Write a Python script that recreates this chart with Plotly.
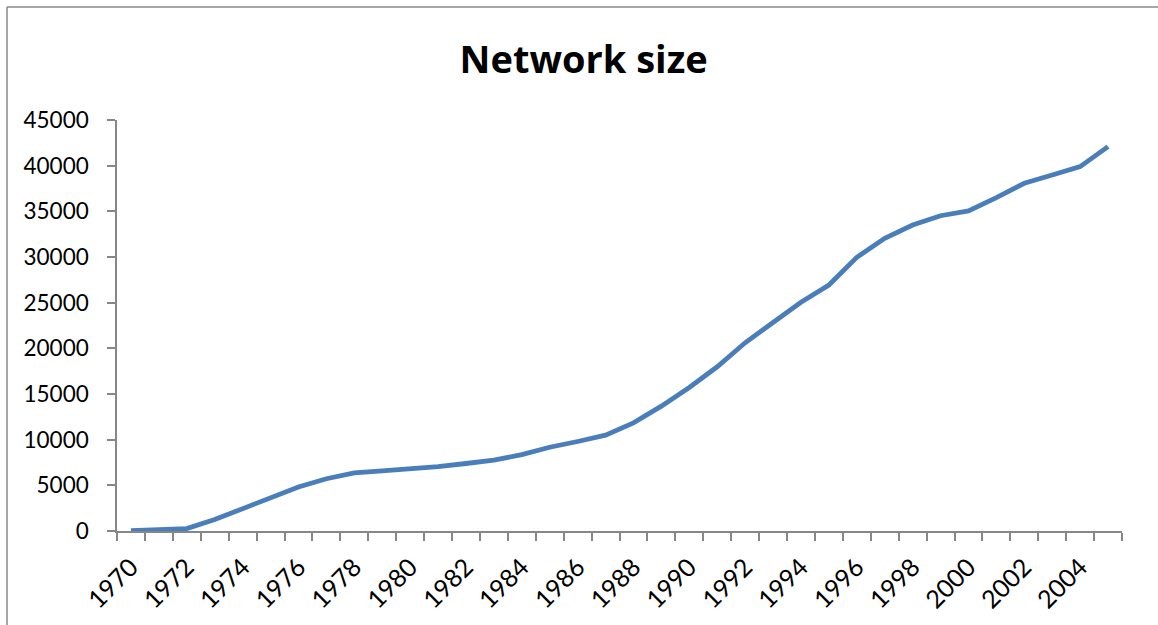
import plotly.graph_objects as go

# Network size by year
years = [str(y) for y in range(1970, 2006)]
network_size = [
    50, 150, 260, 1250, 2450, 3730, 4820, 5720, 6360, 6580,
    6800, 7060, 7390, 7750, 8370, 9170, 9800, 10490, 11840, 13670,
    15720, 17980, 20610, 22900, 25050, 26930, 29960, 32040, 33500, 34520,
    35040, 36500, 38070, 38980, 39890, 42090,
]
tick_text = [y if int(y) % 2 == 0 else "" for y in years]
y_ticks = list(range(0, 45001, 5000))

W, H = 1158, 625
L, R, T, B = 117, 36, 120, 94
pw, ph = W - L - R, H - T - B

def px_to_paper_x(px):
    return (px - L) / pw

def px_to_paper_y(py):
    return (H - B - py) / ph

axis_grey = "#878787"
font_family = "Lato, 'Open Sans', sans-serif"

fig = go.Figure()
fig.add_trace(go.Scatter(
    x=years,
    y=network_size,
    mode="lines",
    line=dict(color="#4a7ebb", width=4.8),
    hoverinfo="x+y",
    showlegend=False,
))

fig.update_layout(
    width=W,
    height=H,
    margin=dict(l=L, r=R, t=T, b=B),
    paper_bgcolor="white",
    plot_bgcolor="white",
    font=dict(family=font_family, color="black", size=22),
    title=dict(
        text="<b>Network size</b>",
        font=dict(family="'Open Sans', Lato, sans-serif", size=38, color="black"),
        x=0.504,
        xref="container",
        xanchor="center",
        y=1 - 60 / H,
        yref="container",
        yanchor="middle",
    ),
    xaxis=dict(
        type="category",
        tickmode="array",
        tickvals=years,
        ticktext=tick_text,
        tickson="boundaries",
        ticks="outside",
        ticklen=8,
        tickwidth=1.5,
        tickcolor=axis_grey,
        tickangle=-45,
        tickfont=dict(size=25),
        ticklabelstandoff=10,
        showline=True,
        linecolor=axis_grey,
        linewidth=1.5,
        showgrid=False,
        zeroline=False,
        range=[-0.5, len(years) - 0.5],
    ),
    yaxis=dict(
        range=[0, 45000],
        tickmode="array",
        tickvals=y_ticks,
        ticktext=[str(v) for v in y_ticks],
        ticks="outside",
        ticklen=8,
        tickwidth=1.5,
        tickcolor=axis_grey,
        ticklabelstandoff=14,
        tickfont=dict(size=22.5),
        showline=True,
        linecolor=axis_grey,
        linewidth=1.5,
        showgrid=False,
        zeroline=False,
    ),
    shapes=[
        # chart-area frame (left and top edges)
        dict(type="line", xref="paper", yref="paper",
             x0=px_to_paper_x(7), x1=px_to_paper_x(7),
             y0=px_to_paper_y(7), y1=px_to_paper_y(700),
             line=dict(color="#888888", width=1.5)),
        dict(type="line", xref="paper", yref="paper",
             x0=px_to_paper_x(7), x1=px_to_paper_x(1300),
             y0=px_to_paper_y(7), y1=px_to_paper_y(7),
             line=dict(color="#888888", width=1.5)),
    ],
)

fig.write_html("out.html")
